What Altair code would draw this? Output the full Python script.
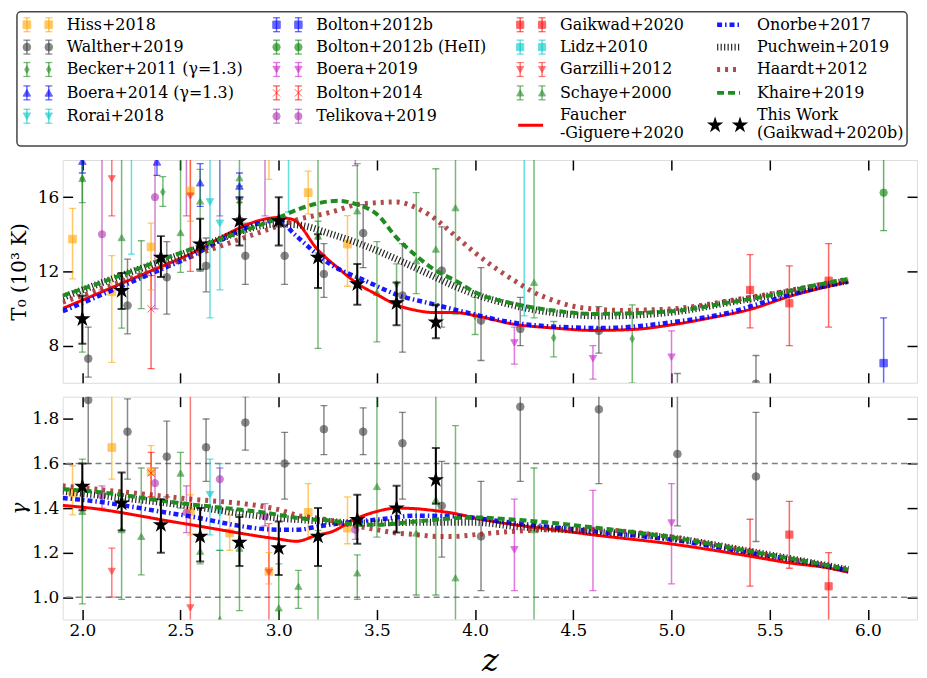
import altair as alt
import pandas as pd

FONT = "DejaVu Serif"

Z_DOMAIN = [1.9, 6.25]
T0_DOMAIN = [6.0, 18.0]
G_DOMAIN = [0.9, 1.9]
Z_TICKS = [2.0, 2.5, 3.0, 3.5, 4.0, 4.5, 5.0, 5.5, 6.0]
T0_TICKS = [8, 12, 16]
G_TICKS = [1.0, 1.2, 1.4, 1.6, 1.8]
G_REF = [1.0, 1.6]

# ---------------- measurements: (z, value, lower, upper) ----------------
HISS_T0 = [(1.95, 13.74, 11.6, 15.4), (2.15, 10.9, 7.1, 12.85), (2.35, 13.32, 11.0, 14.6),
           (2.55, 16.33, 14.7, 18.6), (2.95, 18.6, 16.96, 20.5), (3.15, 16.24, 15.1, 17.4),
           (3.35, 13.47, 11.2, 15.0)]
HISS_G = [(1.95, 1.47, 1.37, 1.59), (2.15, 1.672, 1.53, 1.95), (2.35, 1.564, 1.45, 1.68),
          (2.55, 1.385, 1.28, 1.46), (2.75, 1.288, 1.21, 1.37), (2.95, 1.116, 1.06, 1.2),
          (3.15, 1.381, 1.26, 1.51), (3.35, 1.31, 1.24, 1.45)]

WALTHER_T0 = [(2.03, 7.3, 6.3, 9.0), (2.23, 10.16, 8.64, 12.66), (2.43, 11.68, 9.7, 13.6),
              (2.63, 12.3, 10.9, 13.8), (2.83, 12.84, 11.3, 14.6), (3.03, 12.84, 11.3, 14.5),
              (3.23, 11.86, 10.6, 13.5), (3.43, 14.06, 12.2, 15.6), (3.63, 10.7, 7.65, 13.5),
              (3.83, 12.04, 9.0, 14.4), (4.03, 9.35, 7.2, 12.2), (4.23, 8.9, 8.0, 10.6),
              (4.63, 8.8, 7.6, 10.1), (5.03, 5.3, 4.0, 6.5), (5.43, 5.95, 4.2, 7.47)]
WALTHER_G = [(2.03, 1.885, 1.6, 2.0), (2.23, 1.743, 1.53, 1.89), (2.43, 1.631, 1.45, 1.79),
             (2.63, 1.673, 1.52, 1.8), (2.83, 1.784, 1.66, 1.9), (3.03, 1.6, 1.44, 1.74),
             (3.23, 1.754, 1.64, 1.86), (3.43, 1.743, 1.64, 1.85), (3.63, 1.691, 1.44, 1.83),
             (3.83, 1.41, 1.18, 1.61), (4.03, 1.273, 1.03, 1.52), (4.23, 1.855, 1.52, 2.0),
             (4.63, 1.843, 1.51, 2.0), (5.03, 1.643, 1.32, 2.0), (5.43, 1.542, 1.25, 1.83)]

BECKER_T0 = [(2.0, 16.99, 15.7, 18.3), (2.41, 16.28, 15.5, 17.1), (2.8, 15.74, 14.9, 16.6),
             (3.2, 13.82, 13.0, 14.7), (3.6, 11.32, 10.2, 12.4), (4.0, 9.6, 8.6, 10.6),
             (4.4, 8.42, 7.4, 9.3), (4.8, 8.37, 6.0, 10.2)]
BECKER_G = []

BOERA14_T0 = [(2.0, 17.94, 17.3, 18.6), (2.38, 17.9, 17.17, 18.7), (2.6, 16.78, 15.5, 17.8),
              (2.8, 16.6, 15.9, 17.3)]
BOERA14_G = []

RORAI_T0 = [(2.65, 15.74, 9.5, 19.5), (2.7, 14.59, 11.0, 19.5)]
RORAI_G = [(2.65, 1.46, 1.28, 1.62), (2.7, 1.38, 1.21, 1.6)]

BOLTON12_T0 = [(6.08, 7.06, 4.5, 9.5)]
BOLTON12_G = []

BOLTON12HE_T0 = [(6.08, 16.24, 14.2, 19.5)]
BOLTON12HE_G = []

BOERA19_T0 = [(4.2, 8.15, 7.0, 9.0), (4.6, 7.3, 6.2, 8.0), (5.0, 7.38, 5.5, 8.8)]
BOERA19_G = [(4.2, 1.213, 1.03, 1.44), (4.6, 1.3, 1.03, 1.48), (5.0, 1.333, 1.06, 1.51)]

BOLTON14_T0 = [(2.35, 9.98, 6.76, 11.77)]
BOLTON14_G = [(2.35, 1.557, 1.45, 1.65)]

TELIKOVA_T0 = [(2.1, 14.0, 11.0, 19.5), (2.37, 16.0, 9.98, 19.5), (2.53, 19.0, 14.99, 23.0),
               (2.7, 19.5, 14.99, 24.0), (2.93, 19.5, 14.99, 24.0), (3.39, 21.0, 17.7, 25.0)]
TELIKOVA_G = [(2.1, 1.455, 1.4, 1.5), (2.37, 1.512, 1.44, 1.58), (2.53, 1.38, 1.29, 1.5),
              (2.7, 1.53, 1.4, 1.58), (2.93, 1.363, 1.32, 1.42), (3.39, 1.303, 1.26, 1.35)]

GAIKWAD20_T0 = [(5.4, 11.0, 8.96, 12.9), (5.6, 10.28, 8.0, 12.3), (5.8, 11.5, 9.0, 13.5)]
GAIKWAD20_G = [(5.4, 1.2, 1.05, 1.35), (5.6, 1.281, 1.13, 1.43), (5.8, 1.049, 0.85, 1.2)]

LIDZ_T0 = [(2.25, 19.5, 12.93, 26.0), (3.05, 20.0, 15.2, 25.0), (4.25, 19.0, 9.6, 28.0)]
LIDZ_G = []

GARZILLI_T0 = [(2.15, 16.99, 14.99, 18.5), (2.55, 16.06, 12.0, 19.5)]
GARZILLI_G = [(2.15, 1.116, 1.0, 1.22), (2.55, 0.952, 0.85, 2.0), (2.95, 1.112, 0.85, 1.33)]

SCHAYE_T0 = [(2.0, 17.0, 7.65, 20.0), (2.2, 13.82, 8.94, 19.5), (2.3, 11.8, 10.0, 13.65),
             (2.5, 14.09, 11.95, 19.5), (2.6, 15.79, 12.0, 17.5), (2.8, 17.04, 15.7, 19.0),
             (3.2, 13.9, 7.85, 19.5), (3.4, 15.26, 11.5, 17.8), (3.5, 10.87, 8.2, 13.6),
             (3.7, 12.57, 10.8, 16.24), (3.8, 13.2, 10.16, 17.53), (3.9, 15.43, 9.7, 19.5),
             (4.3, 11.41, 9.5, 19.5)]
SCHAYE_G = [(2.0, 1.385, 0.97, 1.62), (2.2, 1.303, 0.99, 1.44), (2.3, 1.273, 1.1, 1.58),
            (2.5, 1.557, 1.4, 1.65), (2.6, 1.206, 1.15, 1.28), (2.7, 0.9, 0.7, 1.21),
            (2.8, 1.22, 0.94, 1.37), (3.0, 0.952, 0.85, 1.15), (3.1, 1.049, 0.95, 1.12),
            (3.2, 0.88, 0.7, 1.3), (3.4, 1.109, 0.99, 1.19), (3.5, 1.497, 1.27, 1.95),
            (3.7, 1.288, 1.01, 1.4), (3.8, 1.437, 1.01, 1.95), (3.9, 1.087, 0.85, 1.77),
            (4.3, 1.303, 0.85, 1.58)]

THIS_T0 = [(2.0, 9.44, 8.1, 10.69), (2.2, 10.96, 9.98, 11.91), (2.4, 12.75, 11.7, 13.9),
           (2.6, 13.47, 12.1, 14.84), (2.8, 14.72, 13.4, 16.0), (3.0, 14.72, 13.4, 16.0),
           (3.2, 12.75, 11.1, 14.0), (3.4, 11.32, 10.2, 12.4), (3.6, 10.3, 9.1, 11.4),
           (3.8, 9.26, 8.4, 10.2)]
THIS_G = [(2.0, 1.497, 1.39, 1.6), (2.2, 1.422, 1.3, 1.56), (2.4, 1.325, 1.2, 1.44),
          (2.6, 1.273, 1.16, 1.4), (2.8, 1.246, 1.14, 1.36), (3.0, 1.221, 1.1, 1.34),
          (3.2, 1.273, 1.14, 1.4), (3.4, 1.348, 1.24, 1.46), (3.6, 1.4, 1.29, 1.5),
          (3.8, 1.527, 1.42, 1.67)]

# ---------------- model curves: (z, value) ----------------
FG_T0 = [(1.9, 10.0), (2.0, 10.45), (2.5, 12.7), (3.0, 14.9), (3.07, 14.8), (3.2, 13.15),
         (3.3, 12.2), (3.4, 11.35), (3.5, 10.75), (3.6, 10.2), (3.7, 9.9), (3.8, 9.78),
         (3.9, 9.78), (4.0, 9.62), (4.2, 9.15), (4.4, 8.95), (4.6, 8.82), (4.8, 8.87),
         (5.0, 9.12), (5.2, 9.5), (5.4, 9.95), (5.6, 10.65), (5.8, 11.2), (5.9, 11.45)]
FG_G = [(1.9, 1.412), (2.0, 1.404), (2.5, 1.333), (3.0, 1.261), (3.09, 1.251), (3.2, 1.28),
        (3.26, 1.291), (3.4, 1.355), (3.5, 1.385), (3.6, 1.4), (3.7, 1.397), (3.8, 1.388),
        (3.9, 1.375), (4.0, 1.355), (4.2, 1.325), (4.4, 1.303), (4.6, 1.28), (5.0, 1.239),
        (5.4, 1.184), (5.6, 1.154), (5.8, 1.131), (5.9, 1.112)]

ONORBE_T0 = [(1.9, 9.85), (2.0, 10.3), (2.5, 12.55), (3.0, 14.75), (3.08, 14.0), (3.26, 12.4),
             (3.44, 11.5), (3.6, 10.75), (3.78, 10.25), (3.95, 9.8), (4.2, 9.23), (4.45, 9.0),
             (4.65, 8.95), (5.0, 9.26), (5.3, 9.8), (5.5, 10.43), (5.7, 11.0), (5.9, 11.45)]
ONORBE_G = [(1.9, 1.445), (2.0, 1.437), (2.5, 1.37), (3.0, 1.303), (3.1, 1.303), (3.2, 1.318),
            (3.4, 1.34), (3.5, 1.348), (3.7, 1.366), (3.9, 1.363), (4.2, 1.333), (4.6, 1.296),
            (5.0, 1.258), (5.4, 1.199), (5.8, 1.139), (5.9, 1.119)]

PUCHWEIN_T0 = [(1.9, 10.6), (2.0, 11.0), (2.5, 12.9), (3.0, 14.55), (3.1, 14.5), (3.27, 14.0),
               (3.44, 13.38), (3.6, 12.66), (3.78, 11.77), (3.95, 10.96), (4.2, 10.16),
               (4.45, 9.71), (4.65, 9.6), (5.0, 9.8), (5.3, 10.34), (5.5, 10.7), (5.7, 11.1),
               (5.9, 11.5)]
PUCHWEIN_G = [(1.9, 1.475), (2.5, 1.415), (3.0, 1.355), (3.26, 1.34), (3.4, 1.333), (3.7, 1.336),
              (4.0, 1.336), (4.2, 1.318), (4.6, 1.296), (5.0, 1.266), (5.4, 1.206), (5.9, 1.124)]

HAARDT_T0 = [(1.9, 10.34), (2.0, 10.7), (2.5, 12.6), (3.0, 14.45), (3.1, 14.8), (3.26, 15.17),
             (3.4, 15.6), (3.5, 15.7), (3.6, 15.74), (3.7, 15.43), (3.8, 14.8), (3.9, 13.9),
             (4.0, 13.0), (4.11, 12.13), (4.2, 11.5), (4.3, 10.87), (4.4, 10.43), (4.5, 10.12),
             (4.6, 9.98), (4.75, 9.9), (5.0, 9.98), (5.3, 10.43), (5.5, 10.78), (5.9, 11.59)]
HAARDT_G = [(1.9, 1.5), (2.5, 1.445), (3.0, 1.393), (3.1, 1.366), (3.2, 1.355), (3.4, 1.318),
            (3.5, 1.303), (3.6, 1.288), (3.7, 1.281), (3.8, 1.273), (3.9, 1.273), (4.0, 1.281),
            (4.2, 1.296), (4.4, 1.303), (4.6, 1.303), (5.0, 1.27), (5.4, 1.206), (5.9, 1.124)]

KHAIRE_T0 = [(1.9, 10.7), (2.0, 11.05), (2.5, 13.0), (3.0, 14.9), (3.1, 15.35), (3.3, 15.8),
             (3.4, 15.6), (3.5, 15.08), (3.6, 13.82), (3.7, 12.84), (3.8, 12.04), (3.9, 11.5),
             (4.0, 10.87), (4.2, 10.25), (4.4, 9.89), (4.6, 9.71), (5.0, 9.85), (5.3, 10.34),
             (5.5, 10.7), (5.72, 11.23), (5.9, 11.59)]
KHAIRE_G = [(1.9, 1.485), (2.0, 1.479), (2.5, 1.422), (3.0, 1.37), (3.1, 1.355), (3.3, 1.34),
            (3.4, 1.325), (3.5, 1.325), (3.7, 1.34), (3.9, 1.355), (4.0, 1.358), (4.2, 1.348),
            (4.4, 1.333), (4.6, 1.313), (5.0, 1.269), (5.4, 1.206), (5.8, 1.142), (5.9, 1.124)]

# ---------------- styles ----------------
STAR = ("M0,-1L0.2245,-0.309L0.951,-0.309L0.363,0.118L0.588,0.809L0,0.382L-0.588,0.809"
        "L-0.363,0.118L-0.951,-0.309L-0.2245,-0.309Z")
THIN_DIAMOND = "M0,-1L0.6,0L0,1L-0.6,0Z"
XMARK = "M-1,-1L1,1M-1,1L1,-1"

# name, T0 list, gamma list, colour, shape, opacity, size, stroke width
MEASUREMENTS = [
    ("Hiss+2018", HISS_T0, HISS_G, "#FFA500", "square", 0.6, 60, 1),
    ("Walther+2019", WALTHER_T0, WALTHER_G, "#3A3A3A", "circle", 0.6, 50, 1),
    ("Becker+2011 (γ=1.3)", BECKER_T0, BECKER_G, "#1E8C1E", THIN_DIAMOND, 0.6, 160, 1),
    ("Boera+2014 (γ=1.3)", BOERA14_T0, BOERA14_G, "#0000FF", "triangle-up", 0.5, 110, 1),
    ("Rorai+2018", RORAI_T0, RORAI_G, "#00C8C8", "triangle-down", 0.5, 110, 1),
    ("Bolton+2012b", BOLTON12_T0, BOLTON12_G, "#0000FF", "square", 0.65, 60, 1),
    ("Bolton+2012b (HeII)", BOLTON12HE_T0, BOLTON12HE_G, "#008000", "circle", 0.65, 55, 1),
    ("Boera+2019", BOERA19_T0, BOERA19_G, "#CC22CC", "triangle-down", 0.45, 90, 1),
    ("Bolton+2014", BOLTON14_T0, BOLTON14_G, "#FF0000", XMARK, 0.5, 100, 2),
    ("Telikova+2019", TELIKOVA_T0, TELIKOVA_G, "#B030B0", "circle", 0.55, 50, 1),
    ("Gaikwad+2020", GAIKWAD20_T0, GAIKWAD20_G, "#FF0000", "square", 0.7, 64, 1),
    ("Lidz+2010", LIDZ_T0, LIDZ_G, "#00C8C8", "square", 0.5, 60, 1),
    ("Garzilli+2012", GARZILLI_T0, GARZILLI_G, "#FF2020", "triangle-down", 0.45, 120, 1),
    ("Schaye+2000", SCHAYE_T0, SCHAYE_G, "#228B22", "triangle-up", 0.45, 120, 1),
]

# name, T0 curve, gamma curve, colour, width, dash, opacity
MODELS = [
    ("Faucher-Giguere+2020", FG_T0, FG_G, "#FF0000", 3, [1, 0], 1.0),
    ("Onorbe+2017", ONORBE_T0, ONORBE_G, "#0000FF", 4.5, [5, 3, 1.5, 3], 0.9),
    ("Puchwein+2019", PUCHWEIN_T0, PUCHWEIN_G, "#111111", 7, [1.2, 2.3], 0.9),
    ("Haardt+2012", HAARDT_T0, HAARDT_G, "#A52A2A", 5, [3, 5], 0.85),
    ("Khaire+2019", KHAIRE_T0, KHAIRE_G, "#1E8C1E", 4, [7, 4], 1.0),
]
MODEL_STYLE = {m[0]: m[3:] for m in MODELS}

LEGEND_COLUMNS = [
    ["Hiss+2018", "Walther+2019", "Becker+2011 (γ=1.3)", "Boera+2014 (γ=1.3)", "Rorai+2018"],
    ["Bolton+2012b", "Bolton+2012b (HeII)", "Boera+2019", "Bolton+2014", "Telikova+2019"],
    ["Gaikwad+2020", "Lidz+2010", "Garzilli+2012", "Schaye+2000", "Faucher-Giguere+2020"],
    ["Onorbe+2017", "Puchwein+2019", "Haardt+2012", "Khaire+2019", "This Work"],
]
LEGEND_TEXT = {"Faucher-Giguere+2020": "Faucher\n-Giguere+2020",
               "This Work": "This Work\n(Gaikwad+2020b)"}

W, H = 859, 224
LEG_W, LEG_H = 859, 135
LEG_COL_X = [-36, 215, 460, 658]
LEG_ROW_Y = [13, 35.5, 58, 81.5, 105]
LEG_TWO_LINE_Y = 114      # symbol row of the two-line entries
LEG_TWO_LINE_TEXT_Y = 104  # first text line of the two-line entries

names = [m[0] for m in MEASUREMENTS]
color_scale = alt.Scale(domain=names, range=[m[3] for m in MEASUREMENTS])
shape_scale = alt.Scale(domain=names, range=[m[4] for m in MEASUREMENTS])
op_scale = alt.Scale(domain=names, range=[m[5] for m in MEASUREMENTS])
size_scale = alt.Scale(domain=names, range=[m[6] for m in MEASUREMENTS])
sw_scale = alt.Scale(domain=names, range=[m[7] for m in MEASUREMENTS])


def series_enc():
    return dict(
        color=alt.Color("series:N", scale=color_scale, legend=None),
        opacity=alt.Opacity("series:N", scale=op_scale, legend=None),
    )


def point_enc():
    d = series_enc()
    d.update(
        shape=alt.Shape("series:N", scale=shape_scale, legend=None),
        size=alt.Size("series:N", scale=size_scale, legend=None),
        stroke=alt.Stroke("series:N", scale=color_scale, legend=None),
        strokeWidth=alt.StrokeWidth("series:N", scale=sw_scale, legend=None),
    )
    return d


def make_axis(orient, values, labels, title=None, fmt=None, style="normal", size=20, tpad=8, lpad=4):
    kw = dict(orient=orient, values=values, labels=labels, ticks=True, tickSize=10,
              tickWidth=1.5, tickColor="black", offset=-10, domain=False, grid=False,
              labelFont=FONT, labelFontSize=17, labelColor="black", labelPadding=lpad)
    if fmt:
        kw["format"] = fmt
    if title:
        kw.update(title=title, titleFont=FONT, titleFontSize=size, titleFontWeight="normal",
                  titleFontStyle=style, titleColor="black", titlePadding=tpad)
    else:
        kw["title"] = None
    return alt.Axis(**kw)


xs = alt.Scale(domain=Z_DOMAIN, nice=False, zero=False)


def panel(idx, ydom, yticks, yfmt, ytitle, ystyle, ysize, ypad, show_x):
    ys = alt.Scale(domain=ydom, nice=False, zero=False)
    X = alt.X("z:Q", scale=xs, axis=None)

    def Y(f):
        return alt.Y(f"{f}:Q", scale=ys, axis=None)

    rows = []
    for m in MEASUREMENTS:
        for z, v, lo, hi in m[1 + idx]:
            rows.append({"series": m[0], "z": z, "v": v, "lo": lo, "hi": hi})
    pts = pd.DataFrame(rows)
    this = pd.DataFrame([{"z": z, "v": v, "lo": lo, "hi": hi} for z, v, lo, hi in (THIS_T0, THIS_G)[idx]])
    carrier = pd.DataFrame({"z": Z_DOMAIN, "v": ydom})

    layers = [
        alt.Chart(carrier).mark_point(opacity=0, size=1, clip=True).encode(
            x=alt.X("z:Q", scale=xs, axis=make_axis("bottom", Z_TICKS, show_x,
                                                      "z" if show_x else None, ".1f", "italic", 32, 7, 3)),
            y=alt.Y("v:Q", scale=ys, axis=make_axis("left", yticks, True, ytitle, yfmt, ystyle, ysize, ypad, 4))),
        alt.Chart(carrier).mark_point(opacity=0, size=1, clip=True).encode(
            x=alt.X("z:Q", scale=xs, axis=make_axis("top", Z_TICKS, False)),
            y=alt.Y("v:Q", scale=ys, axis=make_axis("right", yticks, False))),
    ]
    if idx == 1:
        layers.append(alt.Chart(pd.DataFrame({"g": G_REF})).mark_rule(
            color="#808080", strokeDash=[6, 4], strokeWidth=1.5).encode(y=alt.Y("g:Q", scale=ys, axis=None)))

    base = alt.Chart(pts)
    layers += [
        base.mark_rule(strokeWidth=1.5, clip=True).encode(x=X, y=Y("lo"), y2="hi:Q", **series_enc()),
        base.mark_tick(orient="horizontal", size=7, thickness=1.3, clip=True).encode(x=X, y=Y("lo"), **series_enc()),
        base.mark_tick(orient="horizontal", size=7, thickness=1.3, clip=True).encode(x=X, y=Y("hi"), **series_enc()),
        base.mark_point(filled=True, clip=True).encode(x=X, y=Y("v"), **point_enc()),
    ]
    for name, t0, g, col, wdt, dash, op in MODELS:
        cdf = pd.DataFrame([{"z": z, "v": v} for z, v in (t0, g)[idx]])
        layers.append(alt.Chart(cdf).mark_line(color=col, strokeWidth=wdt, strokeDash=dash, opacity=op,
                                               clip=True, interpolate="monotone").encode(x=X, y=Y("v")))
    tb = alt.Chart(this)
    layers += [
        tb.mark_rule(color="black", strokeWidth=2, clip=True).encode(x=X, y=Y("lo"), y2="hi:Q"),
        tb.mark_tick(orient="horizontal", size=8, thickness=2, color="black", clip=True).encode(x=X, y=Y("lo")),
        tb.mark_tick(orient="horizontal", size=8, thickness=2, color="black", clip=True).encode(x=X, y=Y("hi")),
        tb.mark_point(shape=STAR, size=300, filled=True, color="black", opacity=1, clip=True).encode(x=X, y=Y("v")),
    ]
    return alt.layer(*layers).properties(width=W, height=H).resolve_axis(x="independent", y="independent")


# ---------------- legend ----------------
lx = alt.Scale(domain=[0, LEG_W], nice=False, zero=False)
ly = alt.Scale(domain=[0, LEG_H], nice=False, zero=False, reverse=True)
LX = alt.X("x:Q", scale=lx, axis=None)


def LY(f):
    return alt.Y(f"{f}:Q", scale=ly, axis=None)


leg_pts, leg_text, leg_stars, leg_lines = [], [], [], []
for c, col in enumerate(LEGEND_COLUMNS):
    for r, name in enumerate(col):
        x0 = LEG_COL_X[c]
        y = LEG_ROW_Y[r]
        ty = y
        if name in LEGEND_TEXT:
            y = LEG_TWO_LINE_Y
            ty = LEG_TWO_LINE_TEXT_Y
        leg_text.append({"x": x0 + 40, "y": ty, "label": LEGEND_TEXT.get(name, name)})
        if name in names:
            for dx in (0, 22):
                leg_pts.append({"series": name, "x": x0 + dx, "y": y, "lo": y - 7, "hi": y + 7})
        elif name == "This Work":
            for dx in (-2, 23):
                leg_stars.append({"x": x0 + dx, "y": y})
        else:
            leg_lines.append({"model": name, "x": x0 - 2 if c == 2 else x0, "x2": x0 + 23, "y": y})

box = pd.DataFrame([{"x": -46, "x2": LEG_W - 10, "y": 0, "y2": LEG_H}])
lp = alt.Chart(pd.DataFrame(leg_pts))
leg_layers = [
    alt.Chart(box).mark_rect(fill="white", stroke="#444444", strokeWidth=1.5, cornerRadius=4).encode(
        x=LX, x2="x2:Q", y=LY("y"), y2="y2:Q"),
    lp.mark_rule(strokeWidth=1.5).encode(x=LX, y=LY("lo"), y2="hi:Q", **series_enc()),
    lp.mark_tick(orient="horizontal", size=7, thickness=1.3).encode(x=LX, y=LY("lo"), **series_enc()),
    lp.mark_tick(orient="horizontal", size=7, thickness=1.3).encode(x=LX, y=LY("hi"), **series_enc()),
    lp.mark_point(filled=True).encode(x=LX, y=LY("y"), **point_enc()),
    alt.Chart(pd.DataFrame(leg_stars)).mark_point(shape=STAR, size=300, filled=True, color="black",
                                                  opacity=1).encode(x=LX, y=LY("y")),
]
for row in leg_lines:
    col, wdt, dash, op = MODEL_STYLE[row["model"]]
    leg_layers.append(alt.Chart(pd.DataFrame([row])).mark_rule(
        color=col, strokeWidth=wdt, strokeDash=dash, opacity=op).encode(x=LX, x2="x2:Q", y=LY("y")))
leg_layers.append(alt.Chart(pd.DataFrame(leg_text)).mark_text(
    align="left", baseline="middle", font=FONT, fontSize=16, lineBreak="\n", color="black").encode(
    x=LX, y=LY("y"), text="label:N"))

legend = alt.layer(*leg_layers).properties(width=LEG_W, height=LEG_H,
                                           view=alt.ViewBackground(stroke="transparent"))

top = panel(0, T0_DOMAIN, T0_TICKS, "d", "T₀ (10³ K)", "normal", 20, 8, False)
bottom = panel(1, G_DOMAIN, G_TICKS, ".1f", "γ", "italic", 20, 2, True)

PAD = {"left": 0, "top": 0, "right": 0, "bottom": 0}
chart = alt.vconcat(legend, top, bottom, spacing=10).properties(padding=PAD).configure_view(
    stroke="black", strokeWidth=2).configure(font=FONT)

chart.save("out.html", embed_options={"renderer": "svg", "actions": False})
